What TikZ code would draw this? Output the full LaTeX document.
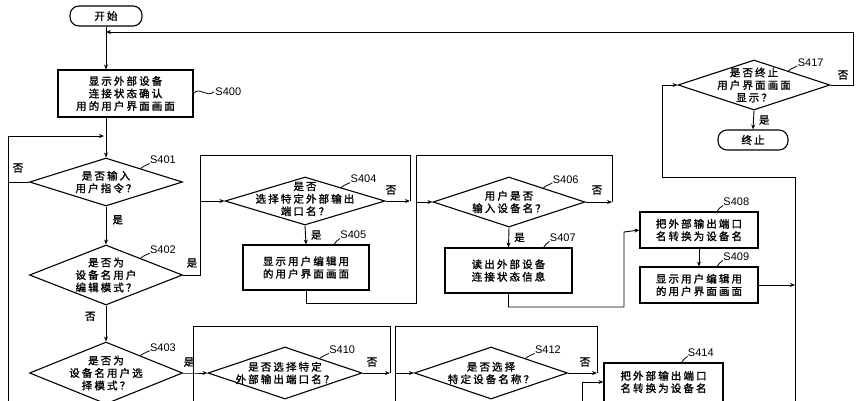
\documentclass[tikz,border=0pt]{standalone}
\usepackage{fontspec}
\setmainfont{Liberation Sans}
\newfontfamily\cjk[LetterSpace=20,FakeBold=1.5]{Noto Sans CJK SC}
\usetikzlibrary{shapes.geometric,arrows.meta,calc}
\tikzset{
  flow/.style={-{Stealth[length=5pt,width=4pt]}},
  dia/.style={draw, diamond, inner sep=0pt, line width=1.1pt},
  box/.style={draw, rectangle, line width=1.1pt},
  term/.style={draw, rounded corners=9pt, line width=1.1pt},
  txt/.style={font=\cjk\fontsize{10.5}{12.5}\selectfont, align=center, inner sep=0pt},
  yn/.style={font=\cjk\fontsize{10.5}{12}\selectfont, inner sep=0pt},
  lab/.style={font=\fontsize{11}{12}\selectfont, inner sep=1pt, anchor=south west},
  sq/.style={line width=0.8pt},
}
\begin{document}
\begin{tikzpicture}[x=1pt,y=-1pt,line width=0.9pt]
\useasboundingbox (0,0) rectangle (862,400);
\clip (0,0) rectangle (862,400);
% terminals
\node[term, minimum width=72, minimum height=20] (start) at (106,16) {};
\node[txt] at (start) {开始};
\node[term, minimum width=70, minimum height=20] (stop) at (753,140) {};
\node[txt] at (stop) {终止};
% boxes
\node[box, minimum width=135, minimum height=47] (s400) at (125.5,93.5) {};
\node[txt] at (s400) {显示外部设备\\连接状态确认\\用的用户界面画面};
\node[box, minimum width=126, minimum height=45] (s405) at (306,267.5) {};
\node[txt] at (s405) {显示用户编辑用\\的用户界面画面};
\node[box, minimum width=127, minimum height=45] (s407) at (508.5,270.5) {};
\node[txt] at (s407) {读出外部设备\\连接状态信息};
\node[box, minimum width=118, minimum height=36] (s408) at (699,230) {};
\node[txt] at (s408) {把外部输出端口\\名转换为设备名};
\node[box, minimum width=118, minimum height=36] (s409) at (699,285) {};
\node[txt] at (s409) {显示用户编辑用\\的用户界面画面};
\node[box, minimum width=119, minimum height=44] (s414) at (663.5,385) {};
\node[txt] at (663.5,382) {把外部输出端口\\名转换为设备名};
% diamonds
\node[dia, minimum width=153, minimum height=48] (s401) at (106,182) {};
\node[txt] at (s401) {是否输入\\用户指令？};
\node[dia, minimum width=153, minimum height=60] (s402) at (106,275) {};
\node[txt] at (s402) {是否为\\设备名用户\\编辑模式？};
\node[dia, minimum width=153, minimum height=62] (s403) at (106,373) {};
\node[txt] at (s403) {是否为\\设备名用户选\\择模式？};
\node[dia, minimum width=160, minimum height=48] (s404) at (305,201) {};
\node[txt] at (305,199) {是否\\选择特定外部输出\\端口名？};
\node[dia, minimum width=152, minimum height=50] (s406) at (509,202) {};
\node[txt] at (s406) {用户是否\\输入设备名？};
\node[dia, minimum width=152, minimum height=50] (s417) at (754,85) {};
\node[txt] at (s417) {是否终止\\用户界面画面\\显示？};
\node[dia, minimum width=154, minimum height=52] (s410) at (285,373) {};
\node[txt] at (s410) {是否选择特定\\外部输出端口名？};
\node[dia, minimum width=153, minimum height=52] (s412) at (491,373) {};
\node[txt] at (s412) {是否选择\\特定设备名称？};
% step labels
\node[lab, anchor=west] (l400) at (214,92) {S400};
\draw[sq] (s400.east) .. controls (200,86) and (206,98) .. (l400.west);
\foreach \s/\n in {s401/S401, s402/S402, s403/S403, s404/S404, s406/S406, s410/S410, s412/S412, s417/S417}{
  \coordinate (p\s) at ($(\s.north)!0.45!(\s.east)$);
  \node[lab] (l\s) at ($(p\s)+(8,-3)$) {\n};
  \draw[sq] (p\s) .. controls +(3,-3) and +(-3,2) .. ($(l\s.south west)+(1,-2)$);
}
\foreach \s/\n/\dx in {s405/S405/28, s407/S407/35, s408/S408/18, s409/S409/18, s414/S414/18}{
  \coordinate (p\s) at ($(\s.north)+(\dx,0)$);
  \node[lab] (l\s) at ($(p\s)+(5,-4)$) {\n};
  \draw[sq] (p\s) .. controls +(2,-3) and +(-3,2) .. ($(l\s.south west)+(1,-2)$);
}
% junction coordinates
\coordinate (a1) at (8,136);
\coordinate (a2) at (8,182);
\coordinate (a3) at (8,405);
% main spine
\draw[flow] (start.south) -- (start.south |- s400.north);
\draw[flow] (s400.south -| start) -- (s401.north);
\draw[flow] (s401.south) -- (s402.north) node[yn, pos=0.35, right=6pt] {是};
\draw[flow] (s402.south) -- (s403.north) node[yn, pos=0.3, left=10pt] {否};
\draw[flow] (s401.west) -- (a2) -- (a1) -- (104,136);
\draw (a2) -- (a3);
\node[yn] at (18,168) {否};
% S402 -> S404 loop
\coordinate (b1) at (200,275);
\coordinate (b2) at (200,201);
\coordinate (b3) at (200,155);
\coordinate (b4) at (410,155);
\coordinate (b5) at (410,201);
\draw[flow] (s402.east) -- (b1) -- (b2) -- (s404.west);
\draw (b5) -- (b4) -- (b3) -- (b2);
\draw[flow] (s404.east) -- (b5);
\node[yn] at (192,263) {是};
\node[yn] at (391,190) {否};
\draw[flow] (s404.south) -- (s405.north) node[yn, midway, right=5pt] {是};
% S405 -> S406
\coordinate (c1) at (306,303);
\coordinate (c2) at (416,303);
\coordinate (c3) at (416,202);
\coordinate (c4) at (416,155);
\coordinate (c5) at (612,155);
\coordinate (c6) at (612,202);
\draw[flow] (s405.south) -- (c1) -- (c2) -- (c3) -- (s406.west);
\draw (c3) -- (c4) -- (c5) -- (c6);
\draw[flow] (s406.east) -- (c6);
\node[yn] at (597,190) {否};
\draw[flow] (s406.south) -- (s407.north) node[yn, midway, right=5pt] {是};
% S407 -> S408 -> S409
\coordinate (d1) at (508.5,307);
\coordinate (d2) at (624,307);
\coordinate (d3) at (624,232);
\draw[flow] (s407.south) -- (d1) -- (d2) -- (d3) -- (s408.west);
\draw[flow] (s408.south) -- (s409.north);
% right loop to S417
\coordinate (e1) at (795,285);
\coordinate (e2) at (795,405);
\coordinate (e3) at (795,177);
\coordinate (e4) at (662,177);
\coordinate (e5) at (662,85);
\draw[flow] (s409.east) -- (e1);
\draw[flow] (e2) -- (e3) -- (e4) -- (e5) -- (s417.west);
\coordinate (f1) at (853,85);
\coordinate (f2) at (853,32);
\coordinate (f3) at (106,32);
\draw[flow] (s417.east) -- (f1) -- (f2) -- (f3);
\node[yn] at (843,75) {否};
\draw[flow] (s417.south) -- (stop.north) node[yn, midway, right=5pt] {是};
% bottom row
\coordinate (g1) at (193,373);
\coordinate (g2) at (193,326);
\coordinate (g3) at (193,405);
\coordinate (g4) at (390,326);
\coordinate (g5) at (390,373);
\draw[flow] (s403.east) -- (g1) -- (s410.west);
\draw (g3) -- (g2) -- (g4) -- (g5);
\draw[flow] (s410.east) -- (g5);
\node[yn] at (189,362) {是};
\node[yn] at (372,362) {否};
\coordinate (h1) at (395,373);
\coordinate (h2) at (395,326);
\coordinate (h3) at (395,405);
\coordinate (h4) at (597,326);
\coordinate (h5) at (597,373);
\draw[flow] (h1) -- (s412.west);
\draw (h3) -- (h2) -- (h4) -- (h5);
\draw[flow] (s412.east) -- (h5);
\node[yn] at (585,362) {否};
\coordinate (k1) at (582,405);
\coordinate (k2) at (582,382);
\draw[flow] (k1) -- (k2) -- (s414.west |- k2);
\end{tikzpicture}
\end{document}
